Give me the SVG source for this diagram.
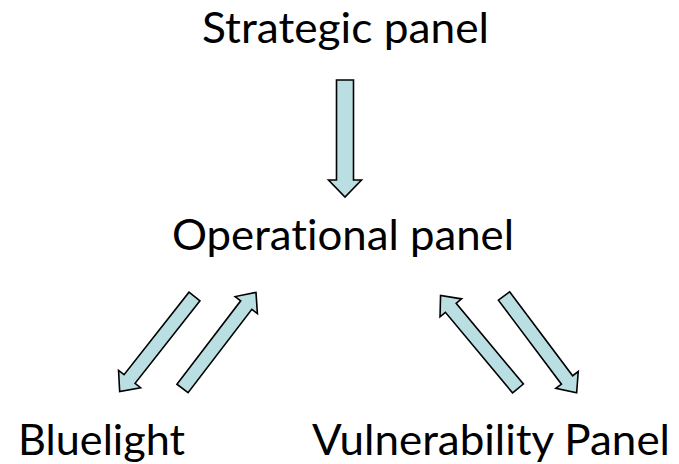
<svg xmlns="http://www.w3.org/2000/svg" width="679" height="464" viewBox="0 0 679 464">
<style>
.lbl{font-family:Lato,"Open Sans","Liberation Sans",sans-serif;font-size:43px;fill:#000;font-variant-ligatures:none;font-feature-settings:"liga" 0,"clig" 0}
.arr{fill:#BADFE2;stroke:#000;stroke-width:1.6;stroke-linejoin:miter}
</style>
<defs>
<path id="diag" d="M0,-7 H105 V-14 L121,0 L105,14 V7 H0 Z"/>
</defs>
<rect width="679" height="464" fill="#fff"/>
<g id="strategic"><text class="lbl" x="202" y="43" textLength="287" lengthAdjust="spacingAndGlyphs">Strategic panel</text></g>
<g id="operational"><text class="lbl" x="172" y="250" textLength="342" lengthAdjust="spacingAndGlyphs">Operational panel</text></g>
<g id="bluelight"><text class="lbl" x="18" y="455" textLength="167" lengthAdjust="spacingAndGlyphs">Bluelight</text></g>
<g id="vulnerability"><text class="lbl" x="312" y="455" textLength="358" lengthAdjust="spacingAndGlyphs">Vulnerability Panel</text></g>
<g id="connectors">
<path class="arr" d="M336.5,80 H353.5 V180 H361.5 L345,197 L328.5,180 H336.5 Z"/>
<use href="#diag" class="arr" transform="translate(194.5,296.5) rotate(128.2)"/>
<use href="#diag" class="arr" transform="translate(182.5,388.5) rotate(-52.6)"/>
<use href="#diag" class="arr" transform="translate(518,388.5) rotate(-129.8)"/>
<use href="#diag" class="arr" transform="translate(504,296) rotate(53.1)"/>
</g>
</svg>
